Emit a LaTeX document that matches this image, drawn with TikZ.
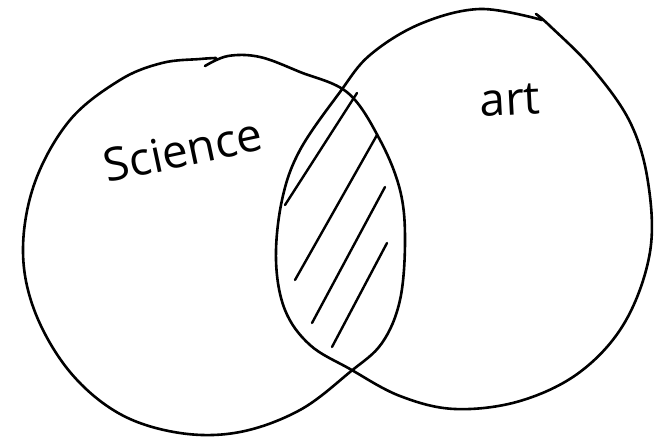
\documentclass[tikz,border=0pt]{standalone}
\usepackage{fontspec}
\setmainfont{Open Sans}
\begin{document}
\begin{tikzpicture}[x=1pt,y=-1pt,line cap=round,line join=round]
\tikzset{pen/.style={draw=black,line width=2.6pt},
  hatch/.style={draw=black,line width=2.4pt},
  word/.style={font=\fontsize{46}{50}\selectfont,inner sep=0pt}}
\useasboundingbox (0,0) rectangle (655,436);
\draw[pen] plot[smooth,tension=0.6] coordinates {(205,66) (228,56) (260,57) (300,72) (348,93) (380,140) (400,190) (405,240) (400,300) (382,343) (350,372) (300,410) (240,432) (180,433) (120,414) (70,372) (35,312) (23,250) (35,182) (70,120) (120,80) (162,63) (200,59) (216,58)};
\draw[pen] plot[smooth,tension=0.6] coordinates {(542,20) (480,9) (420,24) (370,55) (340,92) (300,150) (282,200) (276,260) (285,310) (310,345) (350,369) (400,396) (455,409) (520,401) (580,372) (625,322) (650,252) (648,182) (630,122) (592,68) (550,26) (536,14)};
\draw[hatch] (357,93) -- (285,205);
\draw[hatch] (377,135) -- (295,280);
\draw[hatch] (385,187) -- (312,323);
\draw[hatch] (387,243) -- (332,347);
\node[word,rotate=12] (science) at (183,150) {Science};
\node[word,rotate=3] (art) at (510,100) {art};
\end{tikzpicture}
\end{document}
